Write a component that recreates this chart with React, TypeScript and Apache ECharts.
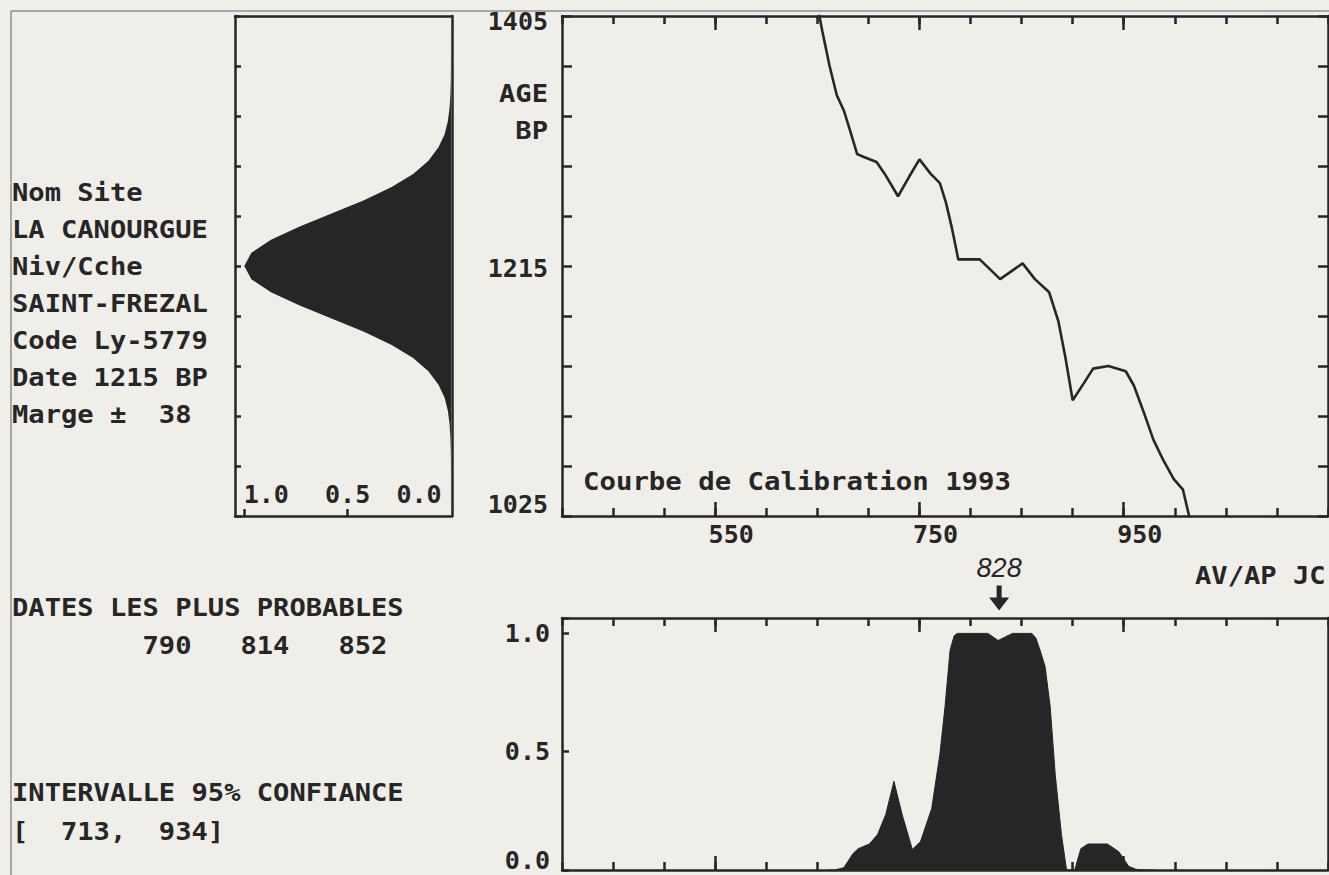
import React, { useEffect, useRef } from "react";
import * as echarts from "echarts";

// ---------- data ----------
const infoLines = ["Nom Site", "LA CANOURGUE", "Niv/Cche", "SAINT-FREZAL", "Code Ly-5779", "Date 1215 BP", "Marge \u00b1  38"];
const probableTitle = "DATES LES PLUS PROBABLES";
const probableDates = [790, 814, 852];
const intervalTitle = "INTERVALLE 95% CONFIANCE";
const interval95 = [713, 934];
const markedDate = 828;
const calTitle = "Courbe de Calibration 1993";
const ageTitle = ["AGE", "BP"];
const eraTitle = "AV/AP JC";

const bpMin = 1025;
const bpMax = 1405;
const bpStep = 38;
const bpLabels = [1025, 1215, 1405];
const yearMin = 400;
const yearMax = 1150;
const yearStep = 50;
const yearLabels = [550, 750, 950];
const densityTicks = [1, 0.5];
const densityLabels = [1, 0.5, 0];
const probLabels = [0, 0.5, 1];

const densityBP = [1025, 1065, 1075, 1085, 1095, 1105, 1115, 1125, 1135, 1145, 1155, 1165, 1175, 1185, 1195, 1205, 1215, 1225, 1235, 1245, 1255, 1265, 1275, 1285, 1295, 1305, 1315, 1325, 1335, 1345, 1355, 1365, 1405];
const densityVal = [0, 0.0004, 0.0011, 0.0029, 0.0068, 0.015, 0.031, 0.061, 0.109, 0.183, 0.287, 0.421, 0.575, 0.732, 0.871, 0.966, 1, 0.966, 0.871, 0.732, 0.575, 0.421, 0.287, 0.183, 0.109, 0.061, 0.031, 0.015, 0.0068, 0.0029, 0.0011, 0.0004, 0];

const calYears = [640, 652, 655, 662, 669, 676, 682, 689, 695, 708, 716, 729, 740, 750, 761, 770, 776, 782, 788, 809, 829, 851, 863, 877, 886, 893, 900, 911, 920, 935, 952, 960, 970, 979, 989, 999, 1008, 1014, 1022];
const calBP = [1440, 1405, 1393, 1367, 1345, 1333, 1318, 1300, 1298, 1294, 1285, 1268, 1283, 1296, 1285, 1278, 1263, 1243, 1220, 1220, 1205, 1217, 1205, 1195, 1173, 1145, 1113, 1126, 1137, 1139, 1135, 1124, 1103, 1083, 1067, 1053, 1045, 1025, 995];

const probYears = [660, 667, 676, 685, 690, 701, 709, 717, 725, 733, 743, 751, 762, 770, 775, 780, 784, 787, 817, 822, 827, 834, 841, 860, 864, 868, 873, 878, 883, 889, 894, 902, 908, 915, 934, 945, 955, 962, 971, 980];
const probVals = [0, 0, 0.01, 0.07, 0.09, 0.11, 0.15, 0.235, 0.375, 0.235, 0.087, 0.12, 0.26, 0.49, 0.69, 0.93, 0.99, 1.0, 1.0, 0.985, 0.97, 0.985, 1.0, 1.0, 0.98, 0.93, 0.86, 0.69, 0.4, 0.15, 0, 0, 0.09, 0.11, 0.11, 0.078, 0.015, 0.003, 0, 0];

// ---------- styles ----------
const INK = "#262626";
const PAPER = "#f0eee9";
const MONO = '"DejaVu Sans Mono", monospace';
const AX = { color: INK, width: 2.5 };
const labelFont = { fontFamily: MONO, fontWeight: "bold" as const, fontSize: 25, color: INK };

const monoText = (x: number, y: number, text: string, align = "left", sx = 1.13) => ({
  type: "text",
  x,
  y,
  scaleX: sx,
  style: {
    text,
    fill: INK,
    font: `bold 24px ${MONO}`,
    fontSize: 24,
    fontFamily: MONO,
    fontWeight: "bold",
    align,
    textAlign: align,
    verticalAlign: "middle",
    textVerticalAlign: "middle",
  },
});

const pad = (s: string, n: number) => (s.length >= n ? s : " ".repeat(n - s.length) + s);

function valueAxis(extra: any) {
  return {
    type: "value",
    splitLine: { show: false },
    axisLine: { show: true, onZero: false, lineStyle: AX },
    axisTick: { show: false },
    axisLabel: { show: false },
    ...extra,
  };
}

export default function App() {
  const ref = useRef<HTMLDivElement>(null);

  useEffect(() => {
    if (!ref.current) return;
    const chart = echarts.init(ref.current, undefined, { renderer: "svg" });

    const tickInside = (len: number, extra: any = {}) => ({ show: true, inside: true, length: len, lineStyle: AX, ...extra });

    const yearAxis = (gridIndex: number, position: string, major: boolean, labels: boolean) =>
      valueAxis({
        gridIndex,
        position,
        min: yearMin,
        max: yearMax,
        interval: yearStep,
        axisLine: { show: !major, onZero: false, lineStyle: AX },
        axisTick: major ? tickInside(14, { customValues: yearLabels }) : tickInside(8),
        axisLabel: labels
          ? {
              show: true,
              customValues: yearLabels,
              margin: 6,
              formatter: (v: number) => `{s|${v}}`,
              rich: { s: { ...labelFont, padding: [0, 0, 0, 32] } },
              ...labelFont,
            }
          : { show: false },
      });

    const option: any = {
      animation: false,
      backgroundColor: PAPER,
      grid: [
        { left: 235, top: 16, width: 217, height: 500 },
        { left: 562, top: 16, width: 766, height: 500 },
        { left: 562, top: 618, width: 766, height: 252 },
      ],
      xAxis: [
        // 0: density box bottom
        valueAxis({
          gridIndex: 0,
          position: "bottom",
          inverse: true,
          min: -0.005,
          max: 1.045,
          axisTick: tickInside(7, { customValues: densityTicks }),
          axisLabel: {
            show: true,
            customValues: densityLabels,
            margin: -34,
            formatter: (v: number) => (v > 0.75 ? `{a|${v.toFixed(1)}}` : v < 0.25 ? `{c|${v.toFixed(1)}}` : `{b|${v.toFixed(1)}}`),
            rich: {
              a: { ...labelFont, padding: [0, 0, 0, 44] },
              b: { ...labelFont },
              c: { ...labelFont, padding: [0, 64, 0, 0] },
            },
            ...labelFont,
          },
        }),
        // 1: density box top
        valueAxis({ gridIndex: 0, position: "top", inverse: true, min: -0.005, max: 1.045 }),
        // 2-5: calibration
        yearAxis(1, "bottom", false, true),
        yearAxis(1, "bottom", true, false),
        yearAxis(1, "top", false, false),
        yearAxis(1, "top", true, false),
        // 6-9: probability
        yearAxis(2, "bottom", false, false),
        yearAxis(2, "bottom", true, false),
        yearAxis(2, "top", false, false),
        yearAxis(2, "top", true, false),
      ],
      yAxis: [
        // 0: density box left
        valueAxis({ gridIndex: 0, position: "left", min: bpMin, max: bpMax, interval: bpStep, axisTick: tickInside(6) }),
        // 1: density box right
        valueAxis({ gridIndex: 0, position: "right", min: bpMin, max: bpMax, interval: bpStep }),
        // 2: calibration left
        valueAxis({
          gridIndex: 1,
          position: "left",
          min: bpMin,
          max: bpMax,
          interval: bpStep,
          axisTick: tickInside(10),
          axisLabel: {
            show: true,
            customValues: bpLabels,
            margin: 14,
            formatter: (v: number) => (v >= bpMax ? `{t|${v}}` : v <= bpMin ? `{m|${v}}` : `{n|${v}}`),
            rich: {
              t: { ...labelFont, padding: [10, 0, 0, 0] },
              n: { ...labelFont, padding: [4, 0, 0, 0] },
              m: { ...labelFont, padding: [0, 0, 24, 0] },
            },
            ...labelFont,
          },
        }),
        // 3: calibration right
        valueAxis({ gridIndex: 1, position: "right", min: bpMin, max: bpMax, interval: bpStep, axisTick: tickInside(10) }),
        // 4: probability left
        valueAxis({
          gridIndex: 2,
          position: "left",
          min: 0,
          max: 1.065,
          interval: 0.5,
          axisTick: tickInside(7),
          axisLabel: {
            show: true,
            customValues: probLabels,
            margin: 12,
            formatter: (v: number) => (v < 0.25 ? `{z|${v.toFixed(1)}}` : `{n|${v.toFixed(1)}}`),
            rich: {
              z: { ...labelFont, padding: [0, 0, 20, 0] },
              n: { ...labelFont },
            },
            ...labelFont,
          },
        }),
        // 5: probability right
        valueAxis({ gridIndex: 2, position: "right", min: 0, max: 1.065, interval: 0.5 }),
      ],
      series: [
        {
          type: "custom",
          name: "densite",
          xAxisIndex: 0,
          yAxisIndex: 0,
          coordinateSystem: "cartesian2d",
          data: densityBP.map((b, i) => [densityVal[i], b]),
          encode: { x: 0, y: 1 },
          renderItem: (params: any, api: any) => {
            if (params.dataIndex !== 0) return null;
            const pts: number[][] = [api.coord([0, bpMin])];
            for (let i = 0; i < densityBP.length; i++) pts.push(api.coord([densityVal[i], densityBP[i]]));
            pts.push(api.coord([0, bpMax]));
            return { type: "polygon", shape: { points: pts }, style: { fill: INK } };
          },
        },
        {
          type: "line",
          name: "calibration",
          xAxisIndex: 2,
          yAxisIndex: 2,
          data: calYears.map((y, i) => [y, calBP[i]]),
          showSymbol: false,
          symbol: "none",
          clip: true,
          lineStyle: { color: INK, width: 2.6 },
        },
        {
          type: "line",
          name: "probabilite",
          xAxisIndex: 6,
          yAxisIndex: 4,
          data: probYears.map((y, i) => [y, probVals[i]]),
          showSymbol: false,
          symbol: "none",
          lineStyle: { color: INK, width: 1 },
          areaStyle: { color: INK, opacity: 1 },
          markPoint: {
            symbol: "path://M7.5,0L12.5,0L12.5,12L20,12L10,25L0,12L7.5,12Z",
            symbolSize: [20, 25],
            itemStyle: { color: INK },
            label: {
              show: true,
              position: "top",
              distance: 4,
              formatter: String(markedDate),
              fontFamily: '"Liberation Sans", sans-serif',
              fontStyle: "italic",
              fontSize: 27,
              color: INK,
            },
            data: [{ coord: [markedDate, 1], y: 598 }],
          },
        },
      ],
      graphic: [
        { type: "line", shape: { x1: 11, y1: 11, x2: 1329, y2: 11 }, style: { stroke: "#8d8f96", lineWidth: 1.5 } },
        { type: "line", shape: { x1: 11, y1: 11, x2: 11, y2: 875 }, style: { stroke: "#8d8f96", lineWidth: 1.5 } },
        ...infoLines.map((t, i) => monoText(12, 193 + 37 * i, t)),
        monoText(548, 94, ageTitle[0], "right"),
        monoText(548, 131, ageTitle[1], "right"),
        monoText(583, 482, calTitle, "left", 1.14),
        monoText(1195, 576, eraTitle),
        monoText(12, 608, probableTitle),
        monoText(12, 646, " ".repeat(5) + probableDates.map((d) => pad(String(d), 6)).join("")),
        monoText(12, 793, intervalTitle),
        monoText(12, 832, "[" + pad(String(interval95[0]), 5) + "," + pad(String(interval95[1]), 5) + "]"),
      ],
    };

    chart.setOption(option);
    return () => chart.dispose();
  }, []);

  return (
    <div
      ref={ref}
      style={{ position: "fixed", left: 0, top: 0, width: 1329, height: 875, background: PAPER }}
    />
  );
}
